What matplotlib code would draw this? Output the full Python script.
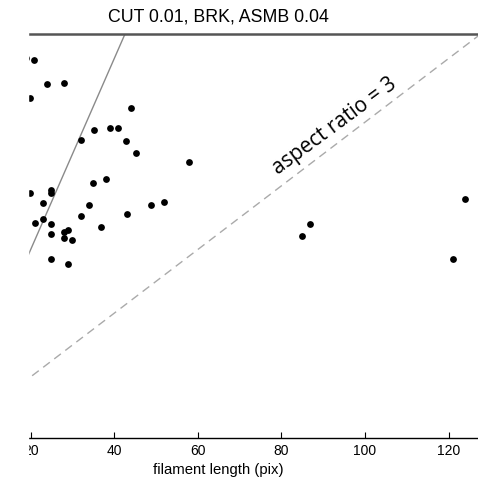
import numpy as np
import matplotlib
matplotlib.use("Agg")
import matplotlib.pyplot as plt
from matplotlib.patches import Rectangle

# filament length (pix) and width (pix)
length = [18.9, 20.9, 24.0, 28.0, 19.8, 43.9, 35.1, 39.0, 40.9, 32.0,
          42.9, 45.1, 57.9, 19.9, 24.8, 24.9, 35.0, 38.0, 23.0, 33.9,
          48.9, 51.9, 21.0, 23.0, 24.9, 32.0, 43.0, 36.9, 24.9, 28.0,
          29.0, 28.0, 29.8, 24.9, 29.0, 86.9, 84.8, 123.9, 121.0]
width = [40.05, 39.84, 37.33, 37.43, 35.81, 34.85, 32.54, 32.75, 32.75, 31.5,
         31.39, 30.13, 29.11, 25.86, 26.23, 25.95, 26.91, 27.38, 24.84, 24.63,
         24.63, 24.97, 22.74, 23.24, 22.69, 23.48, 23.72, 22.32, 21.65, 21.8,
         22.01, 21.17, 20.96, 19.0, 18.45, 22.67, 21.41, 25.29, 19.0]

ratios = [1, 3]
line_x = np.array([0, 140])
xticks = [20, 40, 60, 80, 100, 120]

W, H = 478, 482
fig = plt.figure(figsize=(W / 100, H / 100), dpi=100)
ax = fig.add_axes([28 / W, 44 / H, 462 / W, 404 / H])

ax.scatter(length, width, s=24, color="black", zorder=3, linewidths=0)
ax.plot(line_x, line_x / ratios[0], color="#8a8a8a", lw=1.0)
ax.plot(line_x, line_x / ratios[1], color="#aaaaaa", lw=1.0, dashes=(6, 4))

ax.set_xlim(19.35, 129.9)
ax.set_ylim(0.26, 42.56)

for s in ["left", "right"]:
    ax.spines[s].set_visible(False)
ax.spines["top"].set_color("#555555")
ax.spines["top"].set_linewidth(1.8)
ax.spines["bottom"].set_color("black")
ax.spines["bottom"].set_linewidth(1.0)

ax.set_xticks(xticks)
ax.set_yticks([])
ax.tick_params(axis="x", direction="in", length=4, width=0.8, labelsize=10,
               pad=4, top=False)
for lab in ax.get_xticklabels():
    lab.set_family("Liberation Sans")

ax.text(92.8, 32.9, "aspect ratio = 3", family="Open Sans", fontsize=15,
        rotation=36.5, ha="center", va="center", rotation_mode="anchor")

fig.text(218 / W, 1 - 17 / H, "CUT 0.01, BRK, ASMB 0.04", family="Liberation Sans",
         fontsize=12.8, ha="center", va="center")
fig.text(218 / W, 1 - 470 / H, "filament length (pix)", family="Liberation Sans",
         fontsize=10.7, ha="center", va="center")

# left strip of the picture is blank (cropped)
fig.add_artist(Rectangle((0, 0), 28 / W, 1, transform=fig.transFigure,
                         color="white", zorder=10))

fig.savefig("out.png", dpi=100)
